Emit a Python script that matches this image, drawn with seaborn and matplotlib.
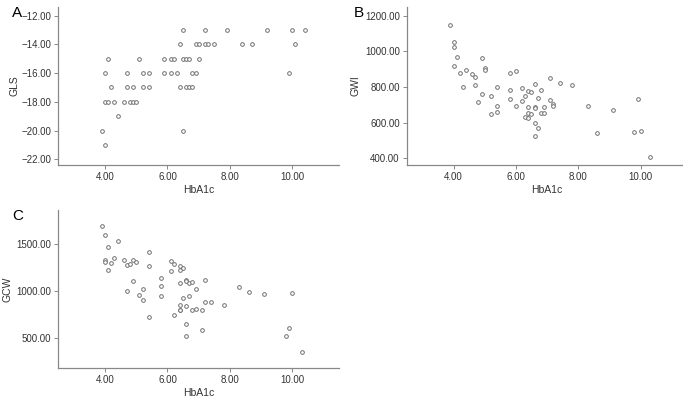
import pandas as pd
import seaborn as sns
import matplotlib.pyplot as plt

# Panel A: HbA1c vs GLS
hba1c_a = [6.5, 7.2, 7.9, 9.2, 10.0, 10.4,
           6.4, 6.9, 7.0, 7.2, 7.3, 7.5, 8.4, 8.7, 10.1,
           4.1, 5.1, 5.9, 6.1, 6.2, 6.5, 6.6, 6.7, 7.0,
           4.0, 4.7, 5.2, 5.4, 5.9, 6.1, 6.3, 6.8, 6.9, 9.9,
           4.2, 4.7, 4.9, 5.2, 5.4, 6.4, 6.6, 6.7, 6.8,
           4.0, 4.1, 4.3, 4.6, 4.8, 4.9, 5.0,
           4.4,
           3.9, 6.5,
           4.0]
gls = [-13] * 6 + [-14] * 9 + [-15] * 9 + [-16] * 10 + [-17] * 9 + [-18] * 7 + [-19] + [-20] * 2 + [-21]

# Panel B: HbA1c vs GWI
hba1c_b = [3.9, 4.0, 4.0, 4.1, 4.0, 4.2, 4.3, 4.4, 4.6, 4.7, 4.7, 4.8, 4.9, 4.9,
           5.0, 5.0, 5.2, 5.2, 5.4, 5.4, 5.4, 5.8, 5.8, 5.8, 6.0, 6.0, 6.2, 6.2,
           6.3, 6.3, 6.4, 6.5, 6.4, 6.4, 6.4, 6.5, 6.6, 6.6, 6.6, 6.6, 6.6, 6.7,
           6.7, 6.8, 6.8, 6.9, 6.9, 7.1, 7.1, 7.2, 7.2, 7.4, 7.8, 8.3, 8.6, 9.1,
           9.8, 9.9, 10.0, 10.3]
gwi = [1148, 1056, 1024, 967, 918, 880, 803, 895, 876, 859, 810, 717, 965, 761,
       910, 895, 752, 649, 803, 694, 659, 880, 782, 731, 888, 694, 793, 723,
       748, 631, 776, 770, 690, 653, 626, 650, 816, 687, 681, 597, 525, 737,
       570, 785, 652, 690, 656, 849, 725, 704, 695, 822, 814, 695, 544, 671,
       547, 735, 554, 406]

# Panel C: HbA1c vs GCW
hba1c_c = [3.9, 4.0, 4.0, 4.0, 4.1, 4.1, 4.2, 4.3, 4.4, 4.6, 4.7, 4.7, 4.8, 4.9,
           4.9, 5.0, 5.1, 5.2, 5.2, 5.4, 5.4, 5.4, 5.8, 5.8, 5.8, 6.1, 6.1, 6.2,
           6.2, 6.4, 6.4, 6.4, 6.4, 6.4, 6.4, 6.5, 6.5, 6.6, 6.6, 6.6, 6.6, 6.6,
           6.7, 6.7, 6.8, 6.8, 6.9, 6.9, 7.1, 7.1, 7.2, 7.2, 7.4, 7.8, 8.3, 8.6,
           9.1, 9.8, 9.9, 10.0, 10.3]
gcw = [1699, 1599, 1333, 1309, 1472, 1230, 1301, 1358, 1535, 1337, 1277, 1000, 1294, 1330,
       1106, 1309, 957, 1028, 904, 1418, 1270, 727, 1145, 1060, 950, 1319, 1216, 745,
       1294, 1089, 805, 1266, 1223, 851, 798, 1252, 933, 1117, 1106, 840, 656, 525,
       1085, 950, 1099, 805, 1025, 816, 805, 589, 1121, 887, 883, 858, 1046, 989,
       975, 525, 610, 982, 355]

sns.set_style("ticks")
plt.rcParams["font.family"] = ["Liberation Sans", "DejaVu Sans"]

fig = plt.figure(figsize=(6.83, 3.98), dpi=100)

panels = [
    ("A", hba1c_a, gls, "GLS", [0.0854, 0.5854, 0.411, 0.397], (-22.4, -11.4), [-22, -20, -18, -16, -14, -12], -0.165, 1),
    ("B", hba1c_b, gwi, "GWI", [0.5955, 0.5854, 0.411, 0.397], (362, 1250), [400, 600, 800, 1000, 1200], -0.19, 3),
    ("C", hba1c_c, gcw, "GCW", [0.0854, 0.0746, 0.411, 0.3977], (181, 1865), [500, 1000, 1500], -0.165, 3),
]

for letter, xs, ys, name, rect, ylim, yticks, lx, lpad in panels:
    ax = fig.add_axes(rect)
    df = pd.DataFrame({"HbA1c": xs, name: ys})
    sns.scatterplot(data=df, x="HbA1c", y=name, ax=ax, marker="o", s=7,
                    facecolor="white", edgecolor="#707070", linewidth=0.7)
    ax.set_xlim(2.5, 11.5)
    ax.set_ylim(*ylim)
    ax.set_xticks([4, 6, 8, 10])
    ax.set_yticks(yticks)
    ax.xaxis.set_major_formatter(plt.FuncFormatter(lambda v, p: f"{v:.2f}"))
    ax.yaxis.set_major_formatter(plt.FuncFormatter(lambda v, p: f"{v:.2f}".replace("-", "\u2212")))
    sns.despine(ax=ax)
    for s in ["left", "bottom"]:
        ax.spines[s].set_color("#888888")
        ax.spines[s].set_linewidth(0.9)
    ax.tick_params(labelsize=7, colors="#888888", labelcolor="#333333", length=3, width=0.7, pad=2)
    ax.set_xlabel("HbA1c", fontsize=7.5, color="#333333", labelpad=2)
    ax.set_ylabel(name, fontsize=7.5, color="#333333", labelpad=lpad)
    ax.text(lx, 0.965, letter, transform=ax.transAxes,
            fontsize=11, color="black", va="center", ha="left")

fig.savefig("out.png", dpi=100)
